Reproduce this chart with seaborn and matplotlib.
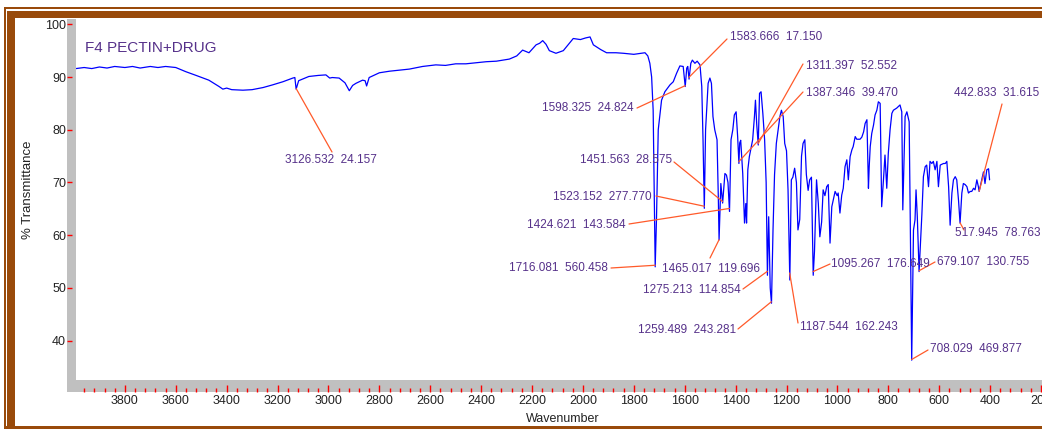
import numpy as np
import pandas as pd
import matplotlib
matplotlib.use("Agg")
import matplotlib.pyplot as plt
from matplotlib.patches import Rectangle
from matplotlib.ticker import MultipleLocator, FixedLocator
import seaborn as sns

# ---------------- data ----------------
wavenumber = [3992, 3960, 3930, 3900, 3870, 3840, 3800, 3770, 3740, 3700, 3670, 3640, 3600, 3560, 3520,
              3470, 3440, 3430, 3415, 3400, 3380, 3336, 3300, 3257, 3220, 3179, 3140, 3132, 3127, 3117,
              3077, 3040, 3010, 2995, 2985, 2958, 2935, 2918, 2905, 2892, 2866, 2856, 2850, 2840, 2800,
              2760, 2720, 2682, 2630, 2578, 2540, 2500, 2460, 2420, 2380, 2340, 2289, 2260, 2237, 2212,
              2195, 2184, 2170, 2158, 2145, 2132, 2106, 2077, 2060, 2038, 2010, 1990, 1972, 1959, 1930,
              1907, 1870, 1841, 1800, 1756, 1745, 1737, 1730, 1724, 1716, 1711, 1704, 1691, 1678, 1658,
              1645, 1632, 1619, 1606, 1598, 1592, 1588, 1583, 1576, 1570, 1560, 1551, 1540, 1533, 1528,
              1523, 1518, 1508, 1501, 1495, 1489, 1482, 1473, 1468, 1465, 1458, 1451, 1442, 1436, 1430,
              1424, 1418, 1411, 1405, 1398, 1392, 1387, 1384, 1380, 1372, 1365, 1360, 1357, 1352, 1346,
              1333, 1326, 1322, 1317, 1311, 1306, 1300, 1293, 1286, 1280, 1275, 1270, 1264, 1259, 1253,
              1247, 1240, 1226, 1220, 1213, 1207, 1200, 1194, 1187, 1181, 1175, 1168, 1161, 1155, 1148,
              1141, 1135, 1128, 1122, 1115, 1109, 1102, 1095, 1090, 1082, 1075, 1069, 1062, 1056, 1049,
              1042, 1036, 1029, 1022, 1009, 1001, 997, 990, 983, 977, 970, 963, 957, 950, 943,
              938, 930, 924, 911, 904, 897, 891, 884, 878, 875, 871, 865, 858, 852, 845,
              839, 832, 826, 819, 813, 806, 800, 793, 786, 780, 767, 754, 747, 743, 734,
              727, 718, 714, 708, 701, 695, 691, 686, 679, 668, 662, 655, 649, 642, 636,
              629, 623, 616, 609, 603, 596, 583, 576, 570, 563, 557, 550, 544, 537, 531,
              524, 518, 511, 505, 498, 491, 485, 478, 472, 465, 459, 452, 446, 443, 433,
              426, 420, 413, 406, 402]

transmittance = [91.6, 91.8, 91.6, 91.9, 91.7, 92.0, 91.8, 92.0, 91.7, 92.0, 91.8, 92.0, 91.8, 91.0, 90.3,
                 89.4, 88.5, 88.2, 87.7, 87.9, 87.6, 87.5, 87.6, 88.0, 88.5, 89.1, 89.8, 89.9, 87.7, 89.3,
                 90.1, 90.3, 90.4, 89.8, 89.9, 89.8, 88.9, 87.4, 88.4, 88.8, 89.4, 89.3, 88.3, 89.9, 90.8,
                 91.1, 91.3, 91.5, 92.0, 92.3, 92.2, 92.5, 92.5, 92.7, 92.9, 93.0, 93.4, 94.0, 95.1, 94.6,
                 95.5, 96.1, 96.4, 96.9, 96.2, 95.0, 94.5, 95.0, 96.0, 97.3, 97.1, 97.4, 97.6, 96.1, 95.2,
                 94.6, 94.6, 94.5, 94.3, 94.6, 94.0, 92.6, 90.0, 83.7, 54.0, 62.9, 80.0, 85.6, 87.2, 88.5,
                 89.1, 90.7, 92.1, 92.0, 88.2, 91.7, 92.0, 89.6, 92.6, 93.2, 92.6, 93.0, 92.3, 88.2, 78.0,
                 65.1, 80.0, 88.8, 89.8, 88.8, 82.5, 80.0, 78.1, 67.3, 59.1, 69.8, 66.1, 71.7, 71.4, 70.0,
                 64.5, 78.1, 80.0, 82.8, 83.4, 78.7, 73.6, 77.5, 78.0, 71.7, 62.3, 66.0, 62.3, 72.4, 74.9,
                 78.1, 82.5, 85.6, 81.0, 77.1, 86.9, 87.2, 83.1, 78.1, 70.0, 52.4, 63.5, 50.0, 47.1, 61.0,
                 71.5, 77.4, 82.5, 83.7, 82.5, 77.4, 76.0, 68.6, 51.5, 70.5, 71.0, 72.7, 70.0, 61.0, 63.0,
                 75.0, 77.4, 78.1, 71.5, 68.5, 70.5, 71.0, 52.4, 57.0, 70.5, 66.0, 59.7, 62.5, 68.6, 67.5,
                 69.2, 69.6, 58.5, 65.4, 68.3, 67.5, 68.0, 64.2, 67.6, 68.9, 73.0, 74.3, 70.5, 74.9, 76.2,
                 76.8, 78.7, 78.2, 78.2, 78.6, 79.6, 81.2, 81.9, 68.9, 73.0, 76.8, 79.3, 80.9, 82.8, 83.7,
                 85.3, 85.0, 65.4, 70.5, 75.2, 68.9, 75.5, 80.0, 83.1, 83.7, 84.1, 84.7, 83.4, 64.8, 82.5,
                 83.4, 81.5, 64.2, 36.3, 61.0, 62.9, 68.6, 63.5, 53.1, 64.0, 71.1, 73.0, 73.3, 69.2, 74.0,
                 73.6, 74.0, 72.4, 74.0, 69.2, 73.3, 73.6, 73.6, 74.0, 69.2, 61.9, 68.0, 70.5, 71.1, 70.5,
                 66.6, 62.3, 68.0, 69.8, 69.6, 69.2, 68.0, 68.3, 68.3, 68.9, 68.6, 70.5, 69.2, 68.3, 70.5,
                 72.0, 69.8, 72.4, 72.6, 70.5]

peak_wavenumbers = [3126.532, 1583.666, 1598.325, 1311.397, 1387.346, 442.833, 1451.563, 1523.152,
                    1424.621, 1716.081, 1465.017, 1275.213, 1259.489, 1187.544, 1095.267, 679.107,
                    708.029, 517.945]
peak_labels = ["3126.532  24.157", "1583.666  17.150", "1598.325  24.824", "1311.397  52.552",
               "1387.346  39.470", "442.833  31.615", "1451.563  28.575", "1523.152  277.770",
               "1424.621  143.584", "1716.081  560.458", "1465.017  119.696", "1275.213  114.854",
               "1259.489  243.281", "1187.544  162.243", "1095.267  176.649", "679.107  130.755",
               "708.029  469.877", "517.945  78.763"]

x_ticks = [3800, 3600, 3400, 3200, 3000, 2800, 2600, 2400, 2200, 2000, 1800, 1600, 1400, 1200,
           1000, 800, 600, 400, 200]
y_ticks = [40, 50, 60, 70, 80, 90, 100]

title_text = "F4 PECTIN+DRUG"
x_label = "Wavenumber"
y_label = "% Transmittance"

# ---------------- style ----------------
sns.set_theme(style="ticks")
plt.rcParams['font.family'] = ['Liberation Sans', 'DejaVu Sans']

W, H = 1042, 429
BROWN = '#994A0A'
PURPLE = '#56318A'
ORANGE = '#FF5A2A'
GRAY = '#C0C0C0'

fig = plt.figure(figsize=(W / 100, H / 100), dpi=100)
fig.patch.set_facecolor('white')


def fx(x):
    return x / W


def fy(y):
    return 1 - y / H


def frect(x0, y0, x1, y1, color, z=-5):
    fig.add_artist(Rectangle((fx(x0), fy(y1)), fx(x1) - fx(x0), fy(y0) - fy(y1),
                             transform=fig.transFigure, facecolor=color, edgecolor='none',
                             zorder=z))


# decorative frame
frect(4, 7.3, W, 9, BROWN)
frect(6.7, 10.7, W, 18.3, BROWN)
frect(4, 7.3, 5.8, H, BROWN)
frect(6.7, 10.7, 15, H, BROWN)
frect(4, 425.5, W, H, BROWN)

# gray axis bands
frect(67, 19, 76, 392, GRAY, z=-4)
frect(67, 380, W, 392, GRAY, z=-4)

ax = fig.add_axes([fx(76), fy(380), fx(W) - fx(76), fy(19) - fy(380)])
ax.set_facecolor('white')

df = pd.DataFrame({'Wavenumber': wavenumber, 'Transmittance': transmittance})
sns.lineplot(data=df, x='Wavenumber', y='Transmittance', sort=False, estimator=None,
             color='#0000FF', linewidth=0.9, ax=ax)

ax.set_xlim(3992, 196)
ax.set_ylim(32.54, 101.0)

for s in ['top', 'right', 'left', 'bottom']:
    ax.spines[s].set_visible(False)
ax.spines['left'].set_position(('outward', 9 * 0.72))
ax.spines['bottom'].set_position(('outward', 12 * 0.72))

ax.xaxis.set_major_locator(FixedLocator(x_ticks))
ax.set_xticklabels([str(v) for v in x_ticks])
ax.xaxis.set_minor_locator(MultipleLocator(40))
ax.yaxis.set_major_locator(FixedLocator(y_ticks))
ax.set_yticklabels([str(v) for v in y_ticks])

ax.tick_params(axis='x', which='major', direction='in', length=5, width=1, color='red',
               labelsize=9, labelcolor='#222222', pad=2, bottom=True)
ax.tick_params(axis='x', which='minor', direction='in', length=2.8, width=1, color='red',
               bottom=True)
ax.tick_params(axis='y', which='major', direction='in', length=3.6, width=1, color='red',
               labelsize=9, labelcolor='#222222', pad=0.6, left=True)
ax.grid(False)

ax.set_xlabel(x_label, fontsize=9, color='#222222')
ax.set_ylabel(y_label, fontsize=9.5, color='#222222')
ax.xaxis.set_label_coords((563 - 76) / (W - 76), (380 - 413) / 361)
ax.yaxis.set_label_coords((34 - 76) / (W - 76), (380 - 190) / 361)

ax.text((85 - 76) / (W - 76), (380 - 48) / 361, title_text, transform=ax.transAxes,
        fontsize=11, color=PURPLE, ha='left', va='center')

# ---------------- peak annotations ----------------
w_asc = np.array(wavenumber[::-1], dtype=float)
t_asc = np.array(transmittance[::-1], dtype=float)

# (line end px, text anchor px, ha, va) - layout only
layout = [
    ((332, 152), (331, 160), 'center', 'center'),
    ((727, 39), (730, 37), 'left', 'center'),
    ((637, 108), (634, 108), 'right', 'center'),
    ((803, 64), (806, 66), 'left', 'center'),
    ((803, 92), (806, 93), 'left', 'center'),
    ((1002, 104), (1039, 93), 'right', 'center'),
    ((674, 162), (672, 160), 'right', 'center'),
    ((656, 196), (652, 197), 'right', 'center'),
    ((629, 224), (626, 225), 'right', 'center'),
    ((611, 268), (608, 268), 'right', 'center'),
    ((710, 258), (711, 269), 'center', 'center'),
    ((743, 289), (741, 290), 'right', 'center'),
    ((738, 329), (736, 330), 'right', 'center'),
    ((798, 323), (800, 327), 'left', 'center'),
    ((830, 264), (831, 264), 'left', 'center'),
    ((935, 262), (937, 262), 'left', 'center'),
    ((928, 350), (930, 349), 'left', 'center'),
    ((964, 230), (1040, 233), 'right', 'center'),
]

inv = ax.transData.inverted()


def px2data(x, y):
    return inv.transform((x, H - y))


for pw, lab, (lend, tpos, ha, va) in zip(peak_wavenumbers, peak_labels, layout):
    pt = np.interp(pw, w_asc, t_asc)
    ex, ey = px2data(*lend)
    ax.plot([pw, ex], [pt, ey], color=ORANGE, linewidth=0.9, zorder=3)
    tx, ty = px2data(*tpos)
    ax.text(tx, ty, lab, color=PURPLE, fontsize=8.5, ha=ha, va=va, zorder=4)

fig.savefig('out.png', dpi=100, facecolor='white')
